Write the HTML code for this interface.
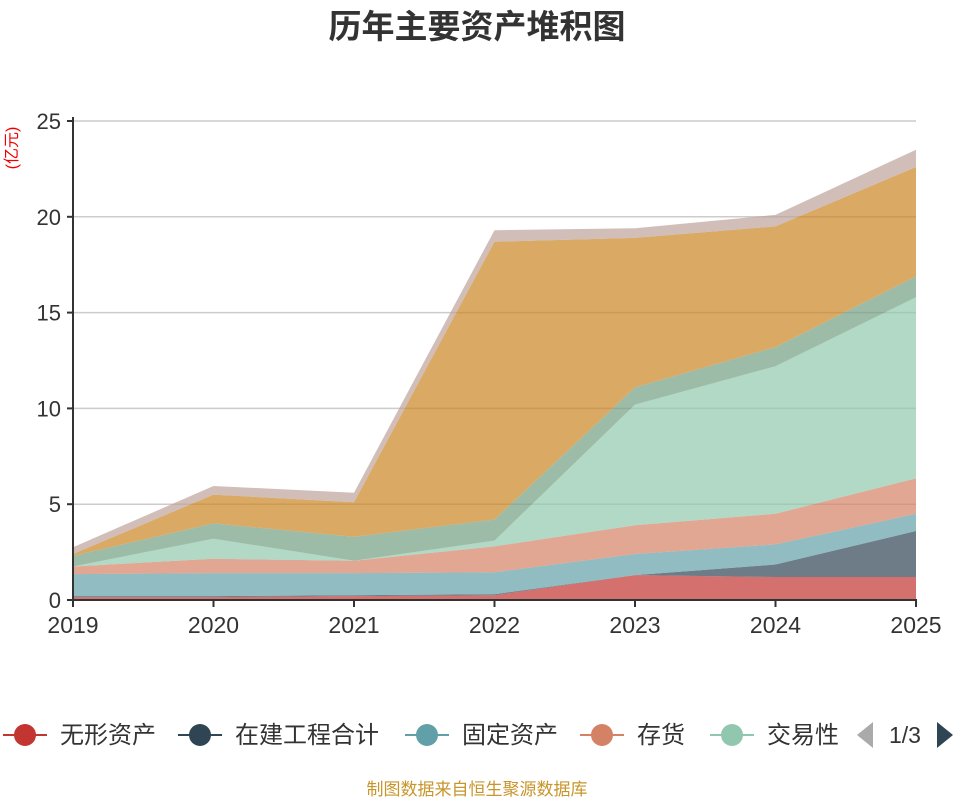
<!DOCTYPE html>
<html><head><meta charset="utf-8"><style>
body{margin:0;background:#fff;font-family:"Liberation Sans","Noto Sans CJK SC",sans-serif}
svg{display:block}
</style></head><body>
<svg id="c" width="954" height="800" xmlns="http://www.w3.org/2000/svg">
<text x="477" y="38" text-anchor="middle" font-size="33" font-weight="bold" fill="#333">历年主要资产堆积图</text>
<text transform="translate(17,148) rotate(-90)" text-anchor="middle" font-size="16" fill="#e00">(亿元)</text>
<g id="grid"></g><g id="areas"></g><g id="axes"></g><g id="legend"></g>
<text x="477" y="795" text-anchor="middle" font-size="17" fill="#c8952a">制图数据来自恒生聚源数据库</text>
</svg>
<script>
const years=["2019","2020","2021","2022","2023","2024","2025"];
const yTicks=[0,5,10,15,20,25];
const s1=[0.15,0.15,0.2,0.25,1.3,1.2,1.2];
const s2=[0.05,0.05,0.05,0.05,0,0.65,2.4];
const s3=[1.15,1.2,1.15,1.15,1.1,1.05,0.9];
const s4=[0.4,0.75,0.65,1.35,1.5,1.6,1.85];
const s5=[0,1.05,0,0.3,6.3,7.7,9.45];
const s6=[0.55,0.8,1.25,1.1,0.9,1.0,1.1];
const s7=[0.1,1.5,1.8,14.5,7.8,6.3,5.7];
const s8=[0.35,0.45,0.5,0.6,0.5,0.6,0.9];
const seriesNames=["无形资产","在建工程合计","固定资产","存货","交易性","series-6","series-7","series-8"];
const series=[s1,s2,s3,s4,s5,s6,s7,s8];
const colors=["#c23531","#2f4554","#61a0a8","#d48265","#91c7ae","#749f83","#ca8622","#bda29a"];
const NS="http://www.w3.org/2000/svg";
const x0=73,x1=916,y0=600,y1=121,ymax=25;
const X=i=>x0+(x1-x0)*i/(years.length-1);
const Y=v=>y0-(y0-y1)*v/ymax;
function mk(t,a,p){const e=document.createElementNS(NS,t);for(const k in a)e.setAttribute(k,a[k]);p.appendChild(e);return e;}
const grid=document.getElementById('grid'),axes=document.getElementById('axes'),areas=document.getElementById('areas'),leg=document.getElementById('legend');
yTicks.forEach(t=>{
 if(t>0){const l=mk('line',{x1:x0,x2:x1,y1:Y(t),y2:Y(t),stroke:'#ccc','stroke-width':1.5},grid);
 
 }
 const tx=mk('text',{x:x0-12,y:Y(t)+8,'text-anchor':'end','font-size':22,fill:'#333'},axes);tx.textContent=t;
 
 
 mk('line',{x1:x0-6,x2:x0,y1:Y(t),y2:Y(t),stroke:'#333','stroke-width':2},axes);
});
let base=years.map(()=>0);
series.forEach((s,k)=>{
 const top=base.map((b,i)=>b+s[i]);
 let d='M'+years.map((_,i)=>X(i)+','+Y(top[i])).join('L');
 for(let i=years.length-1;i>=0;i--)d+='L'+X(i)+','+Y(base[i]);
 const p=mk('path',{d:d+'Z',fill:colors[k],'fill-opacity':0.7},areas);
 
 
 base=top;
});
mk('line',{x1:x0,x2:x0,y1:y1-4,y2:y0,stroke:'#333','stroke-width':2},axes);
mk('line',{x1:x0,x2:x1+1,y1:y0,y2:y0,stroke:'#333','stroke-width':2},axes);
years.forEach((y,i)=>{
 mk('line',{x1:X(i),x2:X(i),y1:y0,y2:y0+7,stroke:'#333','stroke-width':2},axes);
 const t=mk('text',{x:X(i),y:y0+33,'text-anchor':'middle','font-size':23,fill:'#333'},axes);t.textContent=y;
 
 
});
const lx=[25,200,427,602,732];
lx.forEach((cx,k)=>{
 const g=mk('g',{},leg);
 
 
 mk('line',{x1:cx-22,x2:cx+22,y1:735,y2:735,stroke:colors[k],'stroke-width':2},g);
 mk('circle',{cx:cx,cy:735,r:11,fill:colors[k]},g);
 const t=mk('text',{x:cx+35,y:743,'font-size':24,fill:'#333'},g);t.textContent=seriesNames[k];
});
const pl=mk('path',{d:'M857,735L873,722L873,748Z',fill:'#aaa'},leg);


const pg=mk('text',{x:905,y:743,'text-anchor':'middle','font-size':23,fill:'#333'},leg);pg.textContent='1/3';


const pr=mk('path',{d:'M953,735L937,722L937,748Z',fill:'#2f4554'},leg);


</script>
</body></html>
